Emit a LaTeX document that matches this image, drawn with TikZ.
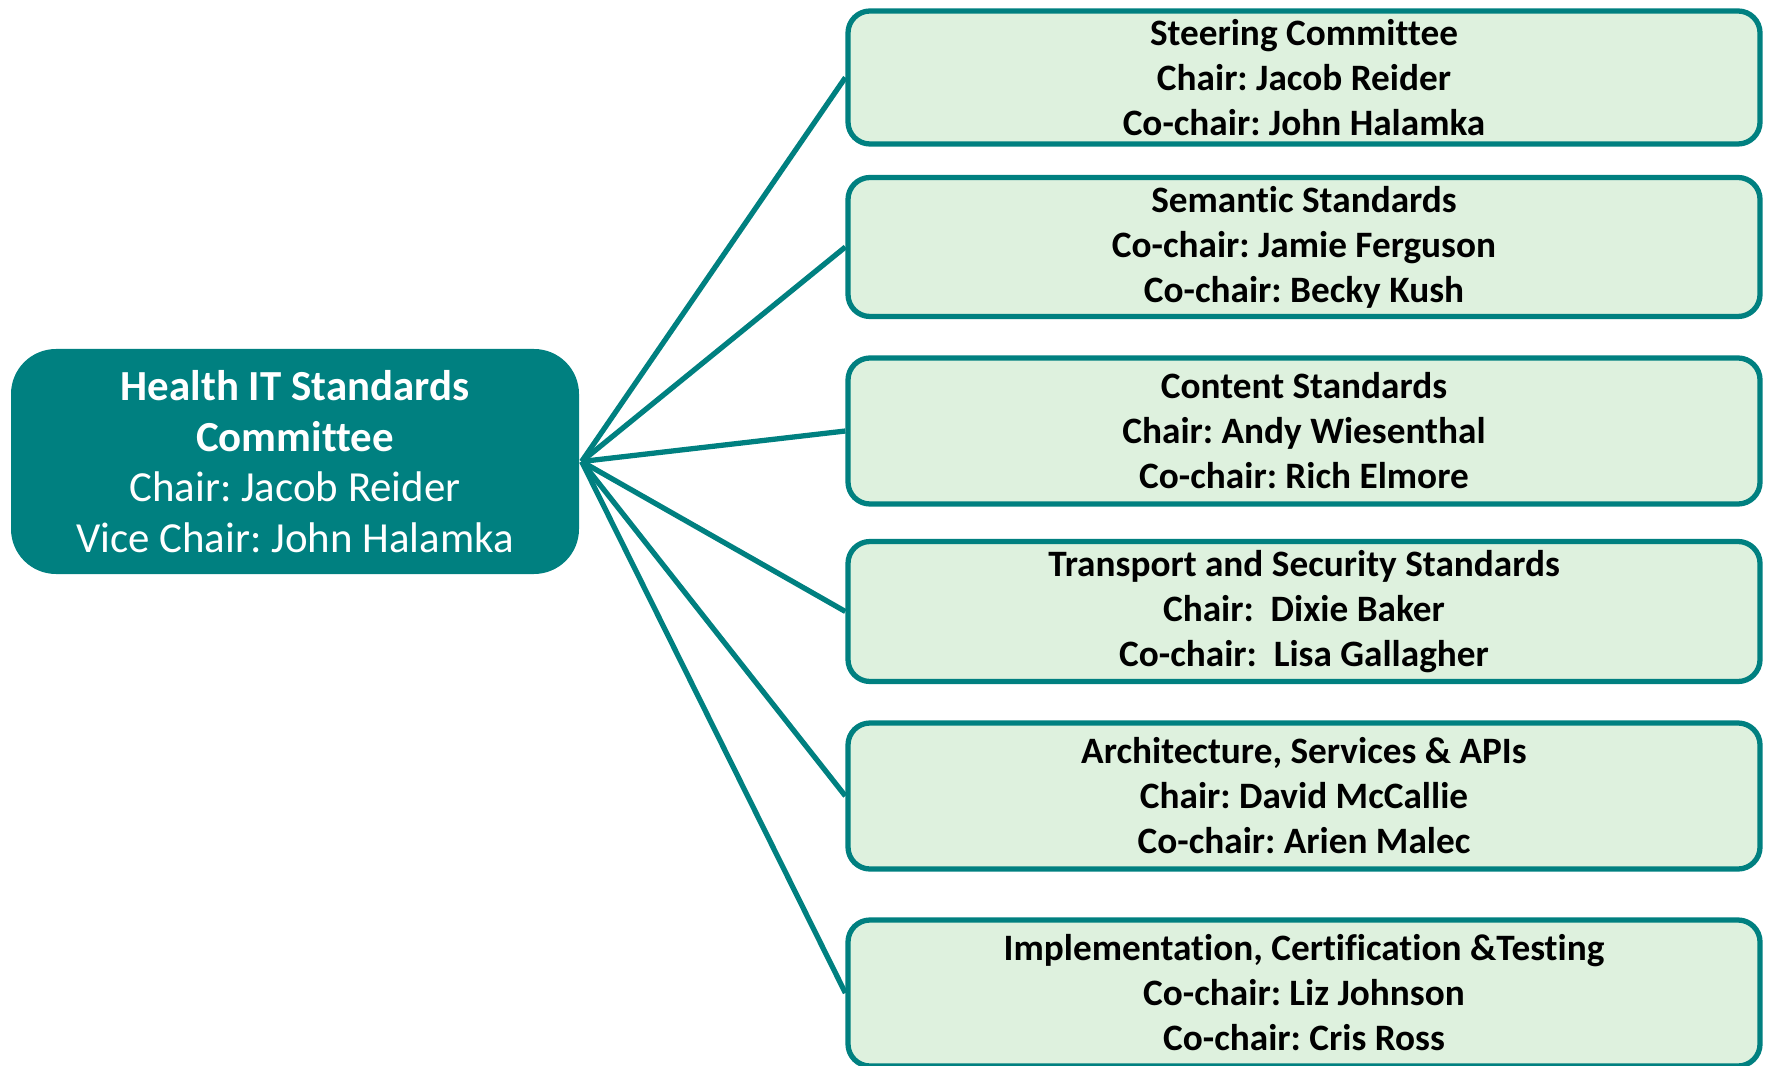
\documentclass[tikz,border=0pt]{standalone}
\usepackage{fontspec}
\setmainfont{Carlito}[Ligatures=NoCommon]
\frenchspacing
\usetikzlibrary{positioning}

\definecolor{hitteal}{RGB}{0,128,128}
\definecolor{hitmint}{RGB}{222,241,222}

\begin{document}
\begin{tikzpicture}[line width = 1.5pt,
    main/.style = {fill = hitteal, rounded corners = 0.45cm, text = white, align = center,
      minimum width = 5.68cm, minimum height = 2.25cm, font = \fontsize{12.2}{14.4}\selectfont},
    group/.style = {draw = hitteal, fill = hitmint, rounded corners = 0.22cm, align = center,
      inner ysep = 0pt, minimum width = 9.12cm, minimum height = 1.4cm,
      font = \bfseries\fontsize{10.6}{12.8}\selectfont},
    link/.style = {draw = hitteal}]
            \useasboundingbox (0,0) rectangle (17.65,10.65);
            \node[main] (hitsc) at (2.95,6.035) {\textbf{Health IT Standards}\\ \textbf{Committee}\\ Chair: Jacob Reider\\ Vice Chair: John Halamka};

            \node[group, minimum height = 1.33cm] (steer) at (13.04,9.875) {Steering Committee\\ Chair: Jacob Reider\\ Co-chair: John Halamka};
            \node[group, minimum height = 1.39cm] (sem) at (13.04,8.18) {Semantic Standards\\ Co-chair: Jamie Ferguson\\ Co-chair: Becky Kush};
            \node[group, minimum height = 1.46cm] (cont) at (13.04,6.34) {Content Standards\\ Chair: Andy Wiesenthal\\ Co-chair: Rich Elmore};
            \node[group, minimum height = 1.40cm] (trans) at (13.04,4.535) {Transport and Security Standards\\ Chair:~~Dixie Baker\\ Co-chair:~~Lisa Gallagher};
            \node[group, minimum height = 1.46cm] (arch) at (13.04,2.69) {Architecture, Services \& APIs\\ Chair: David McCallie\\ Co-chair: Arien Malec};
            \node[group, minimum height = 1.46cm] (impl) at (13.04,0.72) {Implementation, Certification \&Testing\\ Co-chair: Liz Johnson\\ Co-chair: Cris Ross};

            \path[link]
              (hitsc.east) edge (steer.west)
              (hitsc.east) edge (sem.west)
              (hitsc.east) edge (cont.west)
              (hitsc.east) edge (trans.west)
              (hitsc.east) edge (arch.west)
              (hitsc.east) edge (impl.west)
            ;
          \end{tikzpicture}
\end{document}
